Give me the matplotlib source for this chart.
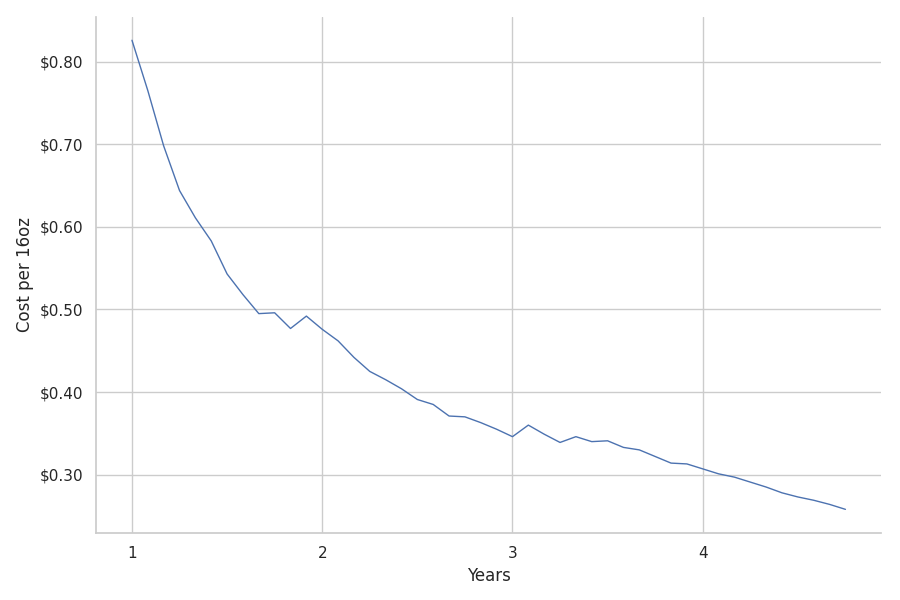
import numpy as np
import matplotlib
matplotlib.use("Agg")
import matplotlib.pyplot as plt
import seaborn as sns
from matplotlib.ticker import FuncFormatter

# Monthly points, years 1 .. 4.75
years = [1 + m / 12 for m in range(46)]
cost = [0.826, 0.765, 0.698, 0.644, 0.611, 0.583, 0.543, 0.518, 0.495, 0.496,
        0.477, 0.492, 0.476, 0.462, 0.442, 0.425, 0.415, 0.404, 0.391, 0.385,
        0.371, 0.370, 0.363, 0.355, 0.346, 0.360, 0.349, 0.339, 0.346, 0.340,
        0.341, 0.333, 0.330, 0.322, 0.314, 0.313, 0.307, 0.301, 0.297, 0.291,
        0.285, 0.278, 0.273, 0.269, 0.264, 0.258]

sns.set_theme(style="whitegrid")
plt.rcParams["font.family"] = ["DejaVu Sans"]

fig, ax = plt.subplots(figsize=(9, 6), dpi=100)
fig.subplots_adjust(left=0.107, right=0.979, top=0.972, bottom=0.112)
ax.plot(years, cost, color="#4c72b0", linewidth=1)
ax.set_xticks([1, 2, 3, 4])
ax.yaxis.set_major_formatter(FuncFormatter(lambda v, _: "\\$%.2f" % v))
ax.set_xlabel("Years")
ax.set_ylabel("Cost per 16oz")
sns.despine(ax=ax)
fig.savefig("out.png", dpi=100)
